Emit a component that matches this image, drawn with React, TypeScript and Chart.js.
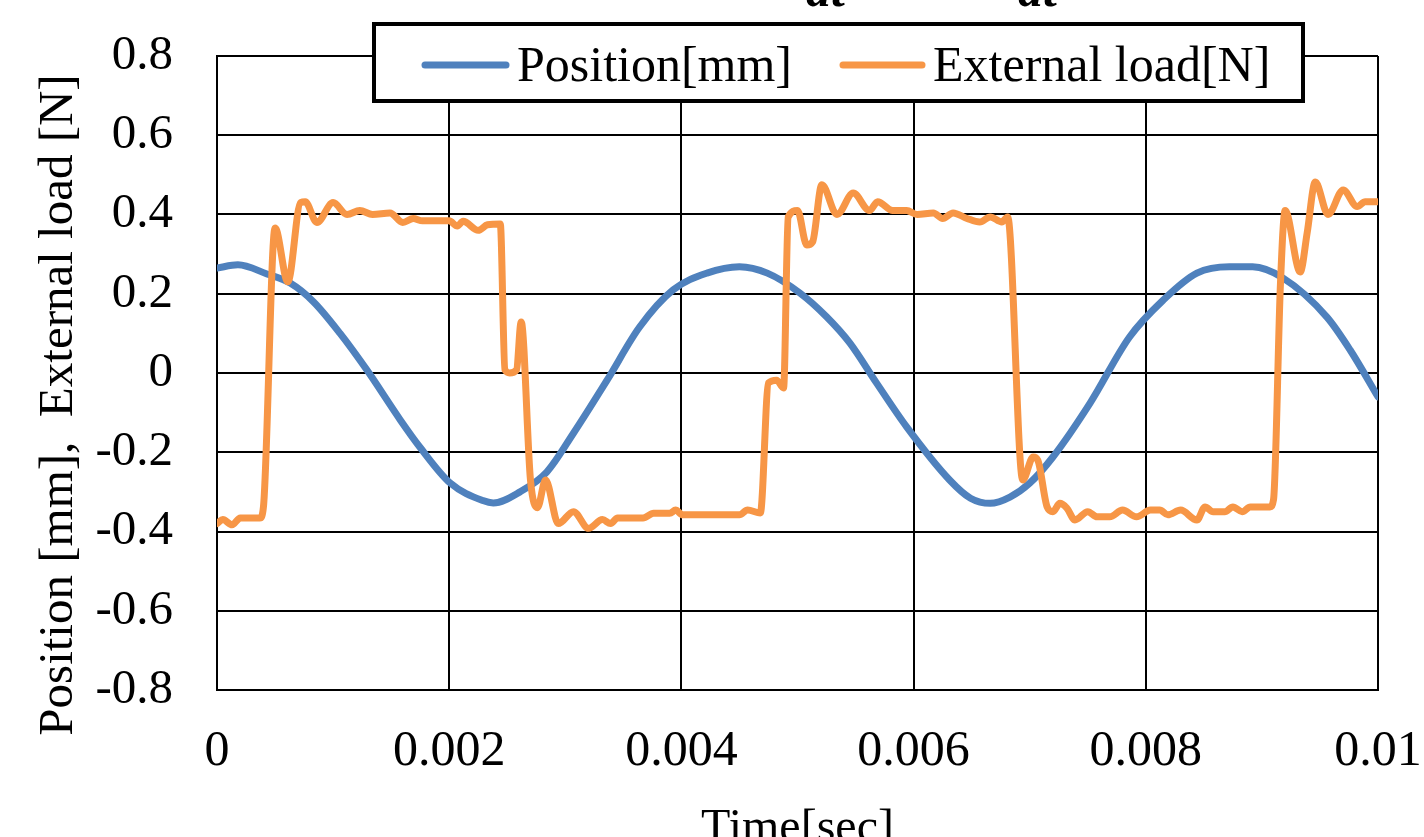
import React, { useEffect, useRef } from "react";
import { Chart, registerables } from "chart.js";

Chart.register(...registerables);

// ---- Data ----
const posTime = [
  0, 0.00018, 0.00043, 0.00063, 0.00083, 0.00106, 0.00129, 0.00158, 0.00175, 0.00201,
  0.00229, 0.00238, 0.00261, 0.00284, 0.00307, 0.00336, 0.00364, 0.00393, 0.00422, 0.0045,
  0.00474, 0.00502, 0.00525, 0.00545, 0.00568, 0.00594, 0.00631, 0.00649, 0.00666, 0.00683,
  0.007, 0.0072, 0.00752, 0.00786, 0.00815, 0.00844, 0.00872, 0.00892, 0.00918, 0.00956,
  0.00976, 0.01,
];
const posValue = [
  0.265, 0.273, 0.25, 0.227, 0.18, 0.1, 0.008, -0.119, -0.188, -0.278,
  -0.322, -0.328, -0.3, -0.25, -0.152, -0.018, 0.116, 0.21, 0.252, 0.268,
  0.252, 0.202, 0.142, 0.076, -0.025, -0.136, -0.27, -0.316, -0.329, -0.313,
  -0.278, -0.212, -0.076, 0.091, 0.184, 0.252, 0.268, 0.268, 0.24, 0.141,
  0.058, -0.06,
];

const loadTime = [
  0, 0.00005, 0.00013, 0.0002, 0.00037, 0.0004, 0.0005, 0.00061, 0.00072, 0.00076,
  0.00086, 0.001, 0.00112, 0.00123, 0.00134, 0.00149, 0.0016, 0.00169, 0.00177, 0.002,
  0.00207, 0.00212, 0.00225, 0.00233, 0.00244, 0.00248, 0.00252, 0.00258, 0.00262, 0.0027,
  0.00276, 0.00283, 0.00294, 0.00307, 0.0032, 0.00332, 0.00339, 0.00345, 0.00367, 0.00376,
  0.0039, 0.00395, 0.00401, 0.0045, 0.00457, 0.00468, 0.00475, 0.00482, 0.00488, 0.00492,
  0.005, 0.00508, 0.00513, 0.00521, 0.00534, 0.00548, 0.00562, 0.00569, 0.00582, 0.00594,
  0.00603, 0.00617, 0.00625, 0.00634, 0.00646, 0.00657, 0.00666, 0.00676, 0.00681, 0.00694,
  0.00703, 0.00707, 0.00715, 0.0072, 0.00726, 0.00732, 0.00739, 0.0075, 0.00758, 0.00769,
  0.0078, 0.00792, 0.00804, 0.00812, 0.00819, 0.0083, 0.00844, 0.00851, 0.00858, 0.00868,
  0.00875, 0.00883, 0.0089, 0.00907, 0.0091, 0.00916, 0.0092, 0.00933, 0.00939, 0.00946,
  0.00957, 0.0097, 0.00982, 0.00989, 0.01,
];
const loadValue = [
  -0.38, -0.37, -0.383, -0.366, -0.366, -0.338, 0.366, 0.23, 0.43, 0.432,
  0.38, 0.43, 0.4, 0.41, 0.4, 0.404, 0.38, 0.39, 0.384, 0.384,
  0.371, 0.383, 0.36, 0.374, 0.376, 0.008, 0.0, 0.008, 0.129, -0.27,
  -0.34, -0.27, -0.38, -0.35, -0.392, -0.37, -0.38, -0.366, -0.366, -0.354,
  -0.354, -0.346, -0.358, -0.358, -0.346, -0.353, -0.025, -0.018, -0.038, 0.394,
  0.41, 0.323, 0.331, 0.475, 0.4, 0.454, 0.41, 0.432, 0.41, 0.41,
  0.4, 0.404, 0.39, 0.404, 0.39, 0.381, 0.394, 0.381, 0.394, -0.27,
  -0.212, -0.22, -0.338, -0.35, -0.329, -0.341, -0.371, -0.35, -0.363, -0.363,
  -0.346, -0.363, -0.346, -0.346, -0.358, -0.346, -0.371, -0.338, -0.35, -0.35,
  -0.338, -0.35, -0.338, -0.338, -0.32, 0.227, 0.41, 0.255, 0.354, 0.482,
  0.4, 0.462, 0.42, 0.432, 0.432,
];

const xTicks = [0, 0.002, 0.004, 0.006, 0.008, 0.01];
const yTicks = [-0.8, -0.6, -0.4, -0.2, 0, 0.2, 0.4, 0.6, 0.8];
const seriesNames = ["Position[mm]", "External load[N]"];
const xTitle = "Time[sec]";
const yTitle = "Position [mm],  External load [N]";
const topFragments = ["dt", "dt"];

const BLUE = "#4F81BD";
const ORANGE = "#F79646";
const FONT = "'Liberation Serif', 'Times New Roman', Times, serif";

export default function App() {
  const ref = useRef<HTMLCanvasElement | null>(null);

  useEffect(() => {
    if (!ref.current) return;

    const overlay = {
      id: "overlay",
      afterDraw(chart: any) {
        const ctx = chart.ctx as CanvasRenderingContext2D;
        ctx.save();
        ctx.fillStyle = "#000";

        // y axis title (rotated), extends below the plot like the reference
        ctx.save();
        ctx.translate(59, 405);
        ctx.rotate(-Math.PI / 2);
        ctx.font = `49px ${FONT}`;
        ctx.textAlign = "center";
        ctx.textBaseline = "middle";
        ctx.fillText(yTitle, 0, 0);
        ctx.restore();

        // cut-off equation fragments at the very top
        ctx.font = `italic bold 50px ${FONT}`;
        ctx.textBaseline = "alphabetic";
        ctx.textAlign = "left";
        ctx.fillText(topFragments[0], 806, 6);
        ctx.fillText(topFragments[1], 1018, 6);

        // legend box
        ctx.fillStyle = "#fff";
        ctx.fillRect(374, 24, 929, 77);
        ctx.lineWidth = 4;
        ctx.strokeStyle = "#000";
        ctx.strokeRect(374, 24, 929, 77);

        ctx.lineCap = "round";
        ctx.lineWidth = 7;
        ctx.strokeStyle = BLUE;
        ctx.beginPath();
        ctx.moveTo(425, 65);
        ctx.lineTo(506, 65);
        ctx.stroke();
        ctx.strokeStyle = ORANGE;
        ctx.beginPath();
        ctx.moveTo(843, 65);
        ctx.lineTo(922, 65);
        ctx.stroke();

        ctx.fillStyle = "#000";
        ctx.font = `50px ${FONT}`;
        ctx.fillText(seriesNames[0], 517, 81);
        ctx.fillText(seriesNames[1], 933, 81);
        ctx.restore();
      },
    };

    const chart = new Chart(ref.current, {
      type: "line",
      data: {
        datasets: [
          {
            label: seriesNames[0],
            data: posTime.map((t, i) => ({ x: t, y: posValue[i] })),
            borderColor: BLUE,
            backgroundColor: BLUE,
            borderWidth: 7,
            pointRadius: 0,
            cubicInterpolationMode: "monotone",
            borderJoinStyle: "round",
            borderCapStyle: "round",
            fill: false,
            order: 1,
          },
          {
            label: seriesNames[1],
            data: loadTime.map((t, i) => ({ x: t, y: loadValue[i] })),
            borderColor: ORANGE,
            backgroundColor: ORANGE,
            borderWidth: 7,
            pointRadius: 0,
            cubicInterpolationMode: "monotone",
            borderJoinStyle: "round",
            borderCapStyle: "round",
            fill: false,
            order: 0,
          },
        ],
      },
      options: {
        animation: false,
        responsive: false,
        devicePixelRatio: 1,
        layout: { padding: { top: 56, left: 0, right: 0, bottom: 0 } },
        plugins: {
          legend: { display: false },
          tooltip: { enabled: false },
        },
        scales: {
          x: {
            type: "linear",
            min: 0,
            max: 0.01,
            afterBuildTicks: (s: any) => {
              s.ticks = xTicks.map((v) => ({ value: v }));
            },
            afterFit: (s: any) => {
              s.height = 170;
              s.paddingRight = 46;
              s.paddingLeft = 0;
            },
            ticks: {
              color: "#000",
              font: { family: FONT, size: 50, lineHeight: 1.2 },
              padding: 32,
              maxRotation: 0,
              autoSkip: false,
              callback: (v: any) => String(Number(Number(v).toFixed(3))),
            },
            grid: { color: "#000", lineWidth: 2, drawTicks: false },
            border: { display: true, color: "#000", width: 2 },
            title: {
              display: true,
              text: xTitle,
              color: "#000",
              font: { family: FONT, size: 48, lineHeight: 1.2 },
              padding: { top: 0, bottom: 2 },
            },
          },
          y: {
            type: "linear",
            min: -0.8,
            max: 0.8,
            afterBuildTicks: (s: any) => {
              s.ticks = yTicks.map((v) => ({ value: v }));
            },
            afterFit: (s: any) => {
              s.width = 217;
              s.paddingTop = 0;
              s.paddingBottom = 0;
            },
            ticks: {
              color: "#000",
              font: { family: FONT, size: 49, lineHeight: 1.2 },
              padding: 44,
              autoSkip: false,
              callback: (v: any) => String(Number(Number(v).toFixed(1))),
            },
            grid: { color: "#000", lineWidth: 2, drawTicks: false },
            border: { display: true, color: "#000", width: 2 },
            title: { display: false, text: yTitle },
          },
        },
      },
      plugins: [overlay],
    } as any);

    return () => chart.destroy();
  }, []);

  return (
    <canvas
      ref={ref}
      width={1424}
      height={860}
      style={{ position: "fixed", left: 0, top: 0, display: "block" }}
    />
  );
}
